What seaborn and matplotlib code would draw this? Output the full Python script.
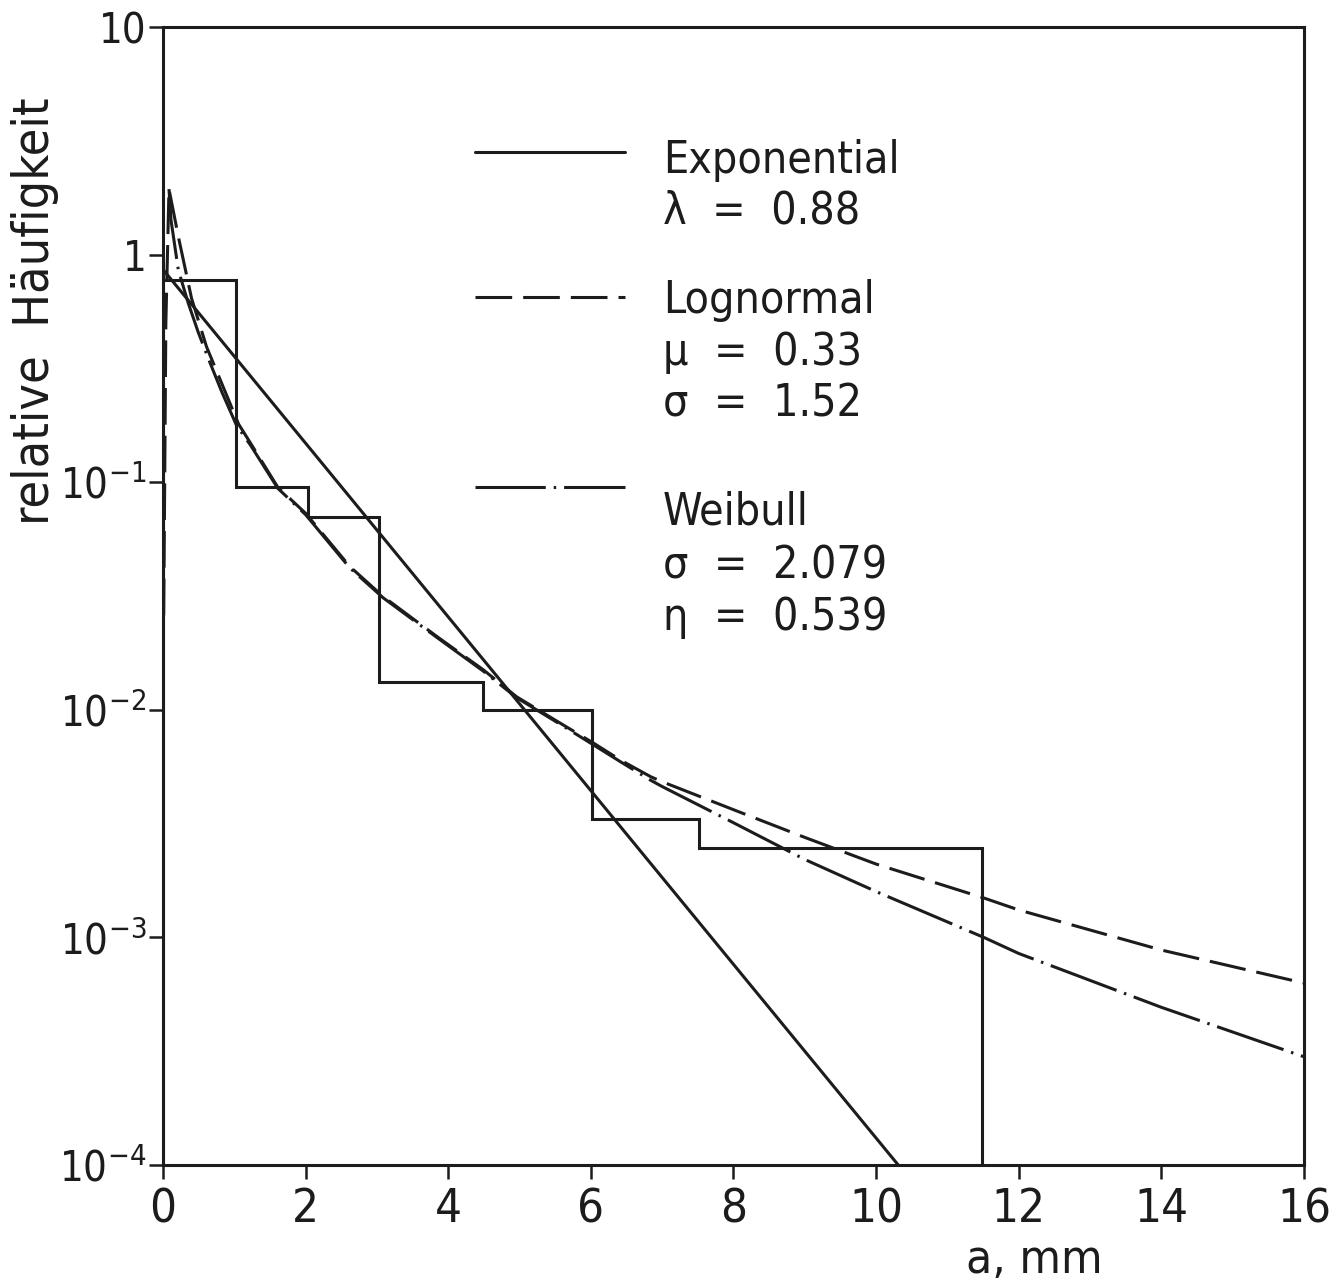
import matplotlib
matplotlib.use("Agg")
import matplotlib.pyplot as plt
from matplotlib import font_manager
from matplotlib.ticker import NullLocator
import seaborn as sns

# Histogram of the measured values (bin edges in mm, relative frequency per bin)
bin_edges = [0.0, 1.02, 2.03, 3.03, 4.49, 6.02, 7.52, 11.49]
bin_heights = [0.77, 0.095, 0.0703, 0.0132, 0.0100, 0.0033, 0.00247]
hist_floor = 1e-4

# Fitted exponential density
expo_x = [0.0, 10.31]
expo_y = [0.86, 1.0e-4]

# Fitted lognormal density
logn_x = [0.01, 0.04, 0.084, 0.215, 0.40, 0.61, 1.06, 1.23, 1.61, 2.0, 2.62,
          3.09, 3.84, 4.49, 4.96, 5.58, 6.04, 6.42, 6.84, 7.0, 8.0, 9.0, 10.0,
          11.51, 12.0, 14.0, 16.0]
logn_y = [0.026, 0.5, 1.94, 1.2, 0.643, 0.394, 0.18, 0.148, 0.095, 0.073, 0.0426,
          0.0314, 0.021, 0.015, 0.0114, 0.0087, 0.00713, 0.0060, 0.00508, 0.00483,
          0.00364, 0.00275, 0.0021, 0.00149, 0.00132, 0.00088, 0.00063]

# Fitted Weibull density
weib_x = [0.084, 0.112, 0.215, 0.355, 0.495, 0.635, 0.823, 1.03, 1.23, 1.61, 2.0,
          2.62, 3.09, 3.84, 4.49, 4.96, 5.58, 6.04, 6.42, 6.84, 7.0, 8.0, 9.0,
          10.0, 11.51, 12.0, 14.0, 16.0]
weib_y = [1.94, 1.42, 0.855, 0.611, 0.455, 0.35, 0.25, 0.178, 0.145, 0.094, 0.072,
          0.042, 0.031, 0.0208, 0.0148, 0.0113, 0.0086, 0.0070, 0.0059, 0.0049,
          0.0046, 0.00319, 0.0022, 0.00159, 0.0010, 0.00085, 0.000493, 0.000299]

x_ticks = [0, 2, 4, 6, 8, 10, 12, 14, 16]
y_ticks = [1e-4, 1e-3, 1e-2, 1e-1, 1, 10]
y_tick_labels = [r"$10^{-4}$", r"$10^{-3}$", r"$10^{-2}$", r"$10^{-1}$", "1", "10"]

legend_names = ["Exponential", "Lognormal", "Weibull"]
legend_params = [["λ  =  0.88"],
                 ["μ  =  0.33", "σ  =  1.52"],
                 ["σ  =  2.079", "η  =  0.539"]]

ink = "#1c1c1c"
lw = 2.2
dash_logn = (0, (12, 3.6))
dash_weib = (0, (23, 2.6, 0.8, 2.6))

sns.set_style("ticks")

# prefer a narrow sans face for the lettering
have_condensed = any(f.name == "DejaVu Sans" and str(f.stretch) == "condensed"
                     for f in font_manager.fontManager.ttflist)
if have_condensed:
    base_family = "DejaVu Sans"
    plt.rcParams["font.stretch"] = "condensed"
    size_scale = 1.0
else:
    base_family = "Liberation Sans"
    size_scale = 0.97
families = [base_family, "DejaVu Sans"]
plt.rcParams["font.family"] = families
plt.rcParams["mathtext.fontset"] = "custom"
plt.rcParams["mathtext.rm"] = base_family
plt.rcParams["mathtext.it"] = base_family
plt.rcParams["mathtext.default"] = "regular"

fs_key = 32 * size_scale
fs_xtick = 34 * size_scale
fs_ytick = 30 * size_scale
fs_label = 36 * size_scale

fig = plt.figure(figsize=(13.42, 12.81), dpi=100)
ax = fig.add_axes([0.12146, 0.09055, 0.85022, 0.88837])
ax.set_yscale("log")
ax.set_xlim(0, 16)
ax.set_ylim(1e-4, 10)

# histogram outline as a post-step line
step_x = [bin_edges[0]] + bin_edges
step_y = [hist_floor] + bin_heights + [hist_floor]
sns.lineplot(x=step_x, y=step_y, ax=ax, estimator=None, sort=False,
             drawstyle="steps-post", color=ink, linewidth=lw)

sns.lineplot(x=expo_x, y=expo_y, ax=ax, estimator=None, sort=False,
             color=ink, linewidth=lw)
sns.lineplot(x=logn_x, y=logn_y, ax=ax, estimator=None, sort=False,
             color=ink, linewidth=lw)
ax.lines[-1].set_linestyle(dash_logn)
sns.lineplot(x=weib_x, y=weib_y, ax=ax, estimator=None, sort=False,
             color=ink, linewidth=lw)
ax.lines[-1].set_linestyle(dash_weib)
for ln in ax.lines:
    ln.set_solid_joinstyle("miter")

# key: sample lines with the distribution names and parameters
key_styles = ["-", dash_logn, dash_weib]
key_line_y = [0.8904, 0.763, 0.596]
key_text_y = [[0.8713, 0.8274], [0.7484, 0.7030, 0.6575], [0.5624, 0.5155, 0.4701]]
for style, ly, name, params, ty in zip(key_styles, key_line_y, legend_names,
                                       legend_params, key_text_y):
    ax.plot([0.2734, 0.405], [ly, ly], transform=ax.transAxes, color=ink,
            linewidth=lw, linestyle=style)
    for txt, y in zip([name] + params, ty):
        ax.text(0.4382, y, txt, transform=ax.transAxes, fontsize=fs_key,
                color=ink, ha="left", va="baseline")

ax.set_xticks(x_ticks)
ax.set_xticklabels([str(t) for t in x_ticks])
ax.set_yticks(y_ticks)
ax.set_yticklabels(y_tick_labels)
ax.yaxis.set_minor_locator(NullLocator())
ax.xaxis.set_minor_locator(NullLocator())
ax.tick_params(axis="both", which="major", direction="out", length=10,
               width=1.8, color=ink, labelcolor=ink)
ax.tick_params(axis="x", pad=6, labelsize=fs_xtick)
ax.tick_params(axis="y", pad=2, labelsize=fs_ytick)
for side in ["left", "right", "top", "bottom"]:
    ax.spines[side].set_visible(True)
    ax.spines[side].set_linewidth(lw)
    ax.spines[side].set_color(ink)

ax.set_xlabel("a, mm", fontsize=fs_label * 0.95, color=ink)
ax.xaxis.label.set_va("baseline")
ax.xaxis.set_label_coords(0.764, -0.0945)
ax.set_ylabel("relative  Häufigkeit", fontsize=fs_label, color=ink)
ax.yaxis.label.set_va("baseline")
ax.yaxis.set_label_coords(-0.1, 0.75)

fig.savefig("out.png", dpi=100)
